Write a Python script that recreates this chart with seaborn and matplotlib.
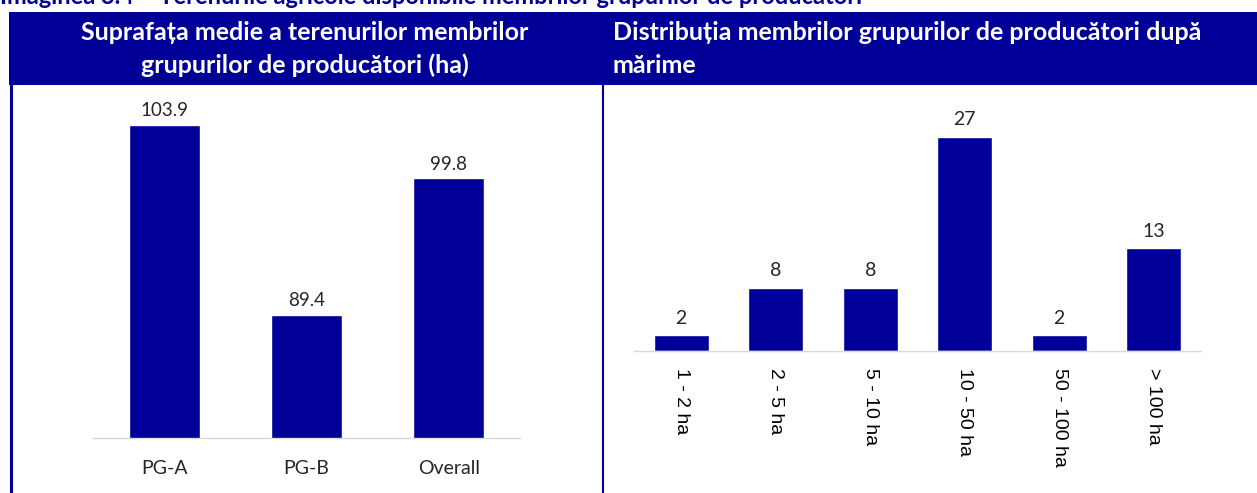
import matplotlib.pyplot as plt
import seaborn as sns
import pandas as pd
from matplotlib.patches import Rectangle
from matplotlib.lines import Line2D

NAVY = "#000099"
AXIS_GREY = "#d9d9d9"
TEXT_DARK = "#262626"

# left panel: average land area per producer group (ha)
groups = ["PG-A", "PG-B", "Overall"]
avg_area = [103.9, 89.4, 99.8]

# right panel: members by farm size
size_classes = ["1 - 2 ha", "2 - 5 ha", "5 - 10 ha", "10 - 50 ha", "50 - 100 ha", "> 100 ha"]
members = [2, 8, 8, 27, 2, 13]

fig_title = "Imaginea 3.4 – Terenurile agricole disponibile membrilor grupurilor de producători"
left_header = ["Suprafața medie a terenurilor membrilor", "grupurilor de producători (ha)"]
right_header = ["Distribuția membrilor grupurilor de producători după", "mărime"]

sns.set_theme(style="white")
plt.rcParams['font.family'] = ['Lato', 'DejaVu Sans']

W, H = 1257, 493
fig = plt.figure(figsize=(W / 100, H / 100), dpi=100)


def box(x0, y0, x1, y1):
    # pixel box (top-left origin) -> figure rect
    return [x0 / W, 1 - y1 / H, (x1 - x0) / W, (y1 - y0) / H]


def fx(x):
    return x / W


def fy(y):
    return 1 - y / H


# header band + table borders
fig.add_artist(Rectangle((fx(9), fy(85)), 1 - fx(9), 73 / H,
                         transform=fig.transFigure, color=NAVY, lw=0))
fig.add_artist(Line2D([fx(10.5), fx(10.5)], [fy(85), 0], transform=fig.transFigure,
                      color=NAVY, lw=2.2))
fig.add_artist(Line2D([fx(602.5), fx(602.5)], [fy(85), 0], transform=fig.transFigure,
                      color=NAVY, lw=1.5))

# caption above the table, cropped at the top edge as in the source
fig.text(fx(0), fy(4), fig_title, ha='left', va='baseline', color=NAVY,
         fontsize=17, fontweight='bold')

for i, line in enumerate(left_header):
    fig.text(fx(305), fy(40 + 33 * i), line, ha='center', va='baseline',
             color='white', fontsize=18, fontweight='bold')
for i, line in enumerate(right_header):
    fig.text(fx(613), fy(40 + 33 * i), line, ha='left', va='baseline',
             color='white', fontsize=18, fontweight='bold')

# left chart
df_area = pd.DataFrame({"group": groups, "area": avg_area})
ax1 = fig.add_axes(box(93, 97, 520, 438))
sns.barplot(data=df_area, x="group", y="area", color=NAVY, saturation=1,
            width=0.5, ax=ax1)
ax1.set_ylim(80, 106)
ax1.bar_label(ax1.containers[0], fmt='%.1f', padding=4, fontsize=13.5, color=TEXT_DARK)
ax1.tick_params(axis='x', length=0, pad=16, labelsize=14, labelcolor=TEXT_DARK)

# right chart
df_size = pd.DataFrame({"size": size_classes, "members": members})
ax2 = fig.add_axes(box(634, 113, 1201, 351))
sns.barplot(data=df_size, x="size", y="members", color=NAVY, saturation=1,
            width=0.58, ax=ax2)
ax2.set_ylim(0, 30)
ax2.bar_label(ax2.containers[0], fmt='%d', padding=6, fontsize=14, color=TEXT_DARK)
ax2.tick_params(axis='x', length=0, pad=12)
for lbl in ax2.get_xticklabels():
    lbl.set_rotation(270)
    lbl.set_va('top')
    lbl.set_ha('center')
    lbl.set_family(['Liberation Sans', 'DejaVu Sans'])
    lbl.set_fontsize(14)
    lbl.set_color('black')

for ax in (ax1, ax2):
    ax.set_xlabel("")
    ax.set_ylabel("")
    ax.set_yticks([])
    for side in ("top", "left", "right"):
        ax.spines[side].set_visible(False)
    ax.spines["bottom"].set_color(AXIS_GREY)
    ax.spines["bottom"].set_linewidth(1)
    ax.patch.set_alpha(0)

fig.savefig("out.png", dpi=100)
